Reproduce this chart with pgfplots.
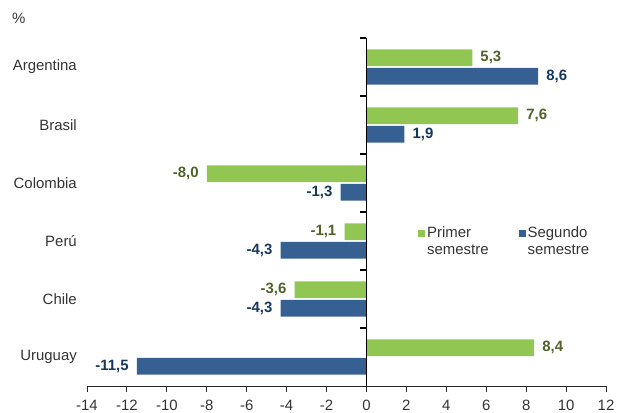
\documentclass[border=0pt]{standalone}
\usepackage{pgfplots}
\usepackage{pgfplotstable}
\pgfplotsset{compat=1.18}
\usepackage{fontspec}
\setmainfont{Liberation Sans}

\definecolor{barGreen}{RGB}{146,198,82}
\definecolor{barBlue}{RGB}{55,96,146}
\definecolor{lblGreen}{RGB}{79,98,40}
\definecolor{lblBlue}{RGB}{23,55,94}
\definecolor{txt}{RGB}{51,51,51}

% Variación por país (%), 0 = Argentina ... 5 = Uruguay
\pgfplotstableread{
idx val
0 5.3
1 7.6
2 -8.0
3 -1.1
4 -3.6
5 8.4
}\primer
\pgfplotstableread{
idx val
0 8.6
1 1.9
2 -1.3
3 -4.3
4 -4.3
5 -11.5
}\segundo

\begin{document}
\begin{tikzpicture}[font=\fontsize{15}{17}\selectfont]
\begin{axis}[
  name=ax,
  scale only axis, width=519bp, height=348bp,
  xbar, bar width=0.29,
  xmin=-14, xmax=12, ymin=-0.5, ymax=5.5, y dir=reverse,
  axis x line*=bottom, axis y line*=left,
  y axis line style={draw=none},
  x axis line style={black!85, line width=0.9bp},
  xtick={-14,-12,...,12},
  xtick pos=bottom, tick align=outside,
  major tick length=6bp,
  x tick style={black!85, line width=0.9bp},
  ytick={0,...,5},
  yticklabels={Argentina,Brasil,Colombia,Perú,Chile,Uruguay},
  y tick style={draw=none},
  yticklabel style={text=txt, inner sep=0pt, xshift=-4bp},
  xticklabel style={text=txt, inner sep=0pt, yshift=-8bp},
  /pgf/number format/assume math mode=true,
  clip=false,
  point meta=x,
  nodes near coords={\pgfmathprintnumber[fixed, fixed zerofill, precision=1, use comma, assume math mode=true]{\pgfplotspointmeta}},
  every node near coord/.append style={font=\fontsize{15}{17}\selectfont\bfseries, inner sep=8bp},
  legend columns=2,
  legend style={draw=none, fill=none, text=txt,
    at={(rel axis cs:0.632,0.47)}, anchor=north west,
    cells={align=left},
    /tikz/every even column/.append style={column sep=28bp}},
  sqlegend/.style={legend image code/.code={\fill[##1] (0bp,4bp) rectangle (7bp,11bp);}},
]
\addplot[fill=barGreen, draw=none, bar shift=-0.16, sqlegend,
  every node near coord/.append style={text=lblGreen}]
  table[x=val, y=idx] {\primer};
\addlegendentry{Primer\\semestre}
\addplot[fill=barBlue, draw=none, bar shift=0.16, sqlegend,
  every node near coord/.append style={text=lblBlue}]
  table[x=val, y=idx] {\segundo};
\addlegendentry{Segundo\\semestre}

% vertical zero line with category separators
\draw[black, line width=1.3bp] (axis cs:0,-0.5) -- (axis cs:0,5.5);
\pgfplotsinvokeforeach{-0.5,0.5,1.5,2.5,3.5,4.5}{
  \draw[black, line width=1.1bp] (axis cs:0,#1) -- ++(-6bp,0bp);
}
\node[anchor=west, text=txt, inner sep=0pt, xshift=-75bp, yshift=19.5bp] at (rel axis cs:0,1) {\%};
\end{axis}
\path (ax.south west) ++(-87bp,-27bp);
\path (ax.north east) ++(12bp,38bp);
\end{tikzpicture}
\end{document}
